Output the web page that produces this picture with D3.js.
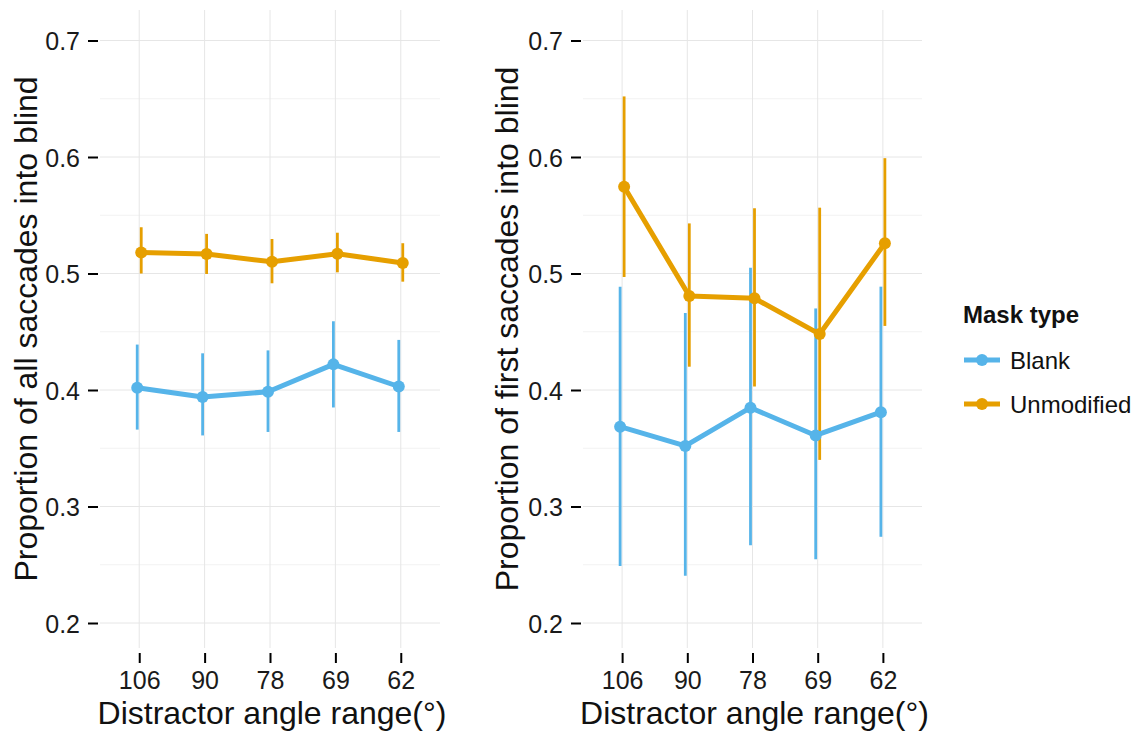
<!DOCTYPE html>
<html>
<head>
<meta charset="utf-8">
<script src="https://cdn.jsdelivr.net/npm/d3@7"></script>
<style>
  body { margin: 0; background: #fff; }
  svg { display: block; font-family: "Liberation Sans", Arial, sans-serif; }
</style>
</head>
<body>
<div id="chart"></div>
<script>
// data
var angles = ["106", "90", "78", "69", "62"];
var maskTypes = ["Blank", "Unmodified"];
var colours = ["#56B4E9", "#E69F00"];

// left panel: all saccades
var allBlank = [0.402, 0.394, 0.3985, 0.422, 0.403];
var allBlankLo = [0.366, 0.361, 0.364, 0.385, 0.364];
var allBlankHi = [0.439, 0.4315, 0.434, 0.459, 0.443];
var allUnmod = [0.518, 0.5167, 0.510, 0.517, 0.509];
var allUnmodLo = [0.500, 0.4996, 0.4916, 0.501, 0.493];
var allUnmodHi = [0.5397, 0.534, 0.5296, 0.535, 0.526];

// right panel: first saccades
var firstBlank = [0.3685, 0.352, 0.3848, 0.361, 0.381];
var firstBlankLo = [0.249, 0.2406, 0.2667, 0.2547, 0.274];
var firstBlankHi = [0.4887, 0.466, 0.505, 0.470, 0.4887];
var firstUnmod = [0.5745, 0.4807, 0.4787, 0.448, 0.526];
var firstUnmodLo = [0.497, 0.420, 0.403, 0.340, 0.455];
var firstUnmodHi = [0.652, 0.543, 0.556, 0.5565, 0.599];

var yTicks = [0.2, 0.3, 0.4, 0.5, 0.6, 0.7];
var yMinor = [0.25, 0.35, 0.45, 0.55, 0.65];

var width = 1140, height = 731;
var svg = d3.select("#chart").append("svg")
    .attr("width", width)
    .attr("height", height);

var y = d3.scaleLinear().domain([0.2, 0.7]).range([623, 40.5]);
var panelTop = 10, panelBottom = 648;
var dodge = 2;

function series(vals, lo, hi) {
    return vals.map(function(v, i) {
        return {angle: angles[i], value: v, lo: lo[i], hi: hi[i]};
    });
}

function drawPanel(left, right, yTitleX, yTitle, groups) {
    var x = d3.scalePoint().domain(angles).range([left, right]).padding(0.6);
    var g = svg.append("g");

    // grid
    g.selectAll(".minor").data(yMinor).enter().append("line")
        .attr("x1", left).attr("x2", right)
        .attr("y1", function(d) { return y(d); })
        .attr("y2", function(d) { return y(d); })
        .style("stroke", "#f2f2f2").style("stroke-width", 1);
    g.selectAll(".major").data(yTicks).enter().append("line")
        .attr("x1", left).attr("x2", right)
        .attr("y1", function(d) { return y(d); })
        .attr("y2", function(d) { return y(d); })
        .style("stroke", "#e6e6e6").style("stroke-width", 1);
    g.selectAll(".vgrid").data(angles).enter().append("line")
        .attr("x1", function(d) { return x(d); })
        .attr("x2", function(d) { return x(d); })
        .attr("y1", panelTop).attr("y2", panelBottom)
        .style("stroke", "#e6e6e6").style("stroke-width", 1);

    // y axis
    var yAxis = g.append("g")
        .attr("transform", "translate(" + (left - 2) + ",0)")
        .call(d3.axisLeft(y).tickValues(yTicks).tickSize(10).tickPadding(8)
            .tickFormat(d3.format(".1f")));
    yAxis.select(".domain").remove();
    yAxis.selectAll("line").style("stroke", "#000").style("stroke-width", 2);
    yAxis.selectAll("text").style("font-size", "25px").style("fill", "#1a1a1a")
        .attr("dy", "0.36em");

    // x axis
    var xAxis = g.append("g")
        .attr("transform", "translate(0," + (panelBottom + 5) + ")")
        .call(d3.axisBottom(x).tickSize(10).tickPadding(8));
    xAxis.select(".domain").remove();
    xAxis.selectAll("line").style("stroke", "#000").style("stroke-width", 2);
    xAxis.selectAll("text").style("font-size", "25px").style("fill", "#1a1a1a");

    // titles
    g.append("text")
        .attr("x", (left + right) / 2 + 2)
        .attr("y", 724)
        .attr("text-anchor", "middle")
        .style("font-size", "32px")
        .style("fill", "#111")
        .text("Distractor angle range(\u00b0)");
    g.append("text")
        .attr("transform", "translate(" + yTitleX + "," + ((panelTop + panelBottom) / 2) + ") rotate(-90)")
        .attr("text-anchor", "middle")
        .style("font-size", "32px")
        .style("fill", "#111")
        .text(yTitle);

    var line = d3.line()
        .x(function(d) { return x(d.angle) + d.off; })
        .y(function(d) { return y(d.value); });

    groups.forEach(function(grp, gi) {
        var off = gi === 0 ? -dodge : dodge;
        grp.forEach(function(d) { d.off = off; });
        g.selectAll(".err" + gi).data(grp).enter().append("line")
            .attr("x1", function(d) { return x(d.angle) + off; })
            .attr("x2", function(d) { return x(d.angle) + off; })
            .attr("y1", function(d) { return y(d.lo); })
            .attr("y2", function(d) { return y(d.hi); })
            .style("stroke", colours[gi])
            .style("stroke-width", 2.8);
    });
    groups.forEach(function(grp, gi) {
        g.append("path")
            .datum(grp)
            .attr("d", line)
            .style("fill", "none")
            .style("stroke", colours[gi])
            .style("stroke-width", 5)
            .style("stroke-linejoin", "round");
    });
    groups.forEach(function(grp, gi) {
        g.selectAll(".pt" + gi).data(grp).enter().append("circle")
            .attr("cx", function(d) { return x(d.angle) + d.off; })
            .attr("cy", function(d) { return y(d.value); })
            .attr("r", 6)
            .style("fill", colours[gi]);
    });
}

drawPanel(100, 440, 37, "Proportion of all saccades into blind", [
    series(allBlank, allBlankLo, allBlankHi),
    series(allUnmod, allUnmodLo, allUnmodHi)
]);
drawPanel(583, 922, 518, "Proportion of first saccades into blind", [
    series(firstBlank, firstBlankLo, firstBlankHi),
    series(firstUnmod, firstUnmodLo, firstUnmodHi)
]);

// legend
var legend = svg.append("g").attr("transform", "translate(963,0)");
legend.append("text")
    .attr("x", 0).attr("y", 323)
    .style("font-size", "24px")
    .style("font-weight", "bold")
    .style("fill", "#111")
    .text("Mask type");
var keys = legend.selectAll(".key").data(maskTypes).enter().append("g")
    .attr("transform", function(d, i) { return "translate(0," + (360 + i * 44) + ")"; });
keys.append("line")
    .attr("x1", 1).attr("x2", 37)
    .style("stroke", function(d, i) { return colours[i]; })
    .style("stroke-width", 5);
keys.append("circle")
    .attr("cx", 19).attr("r", 6)
    .style("fill", function(d, i) { return colours[i]; });
keys.append("text")
    .attr("x", 47).attr("y", 9)
    .style("font-size", "24px")
    .style("fill", "#111")
    .text(function(d) { return d; });
</script>
</body>
</html>
